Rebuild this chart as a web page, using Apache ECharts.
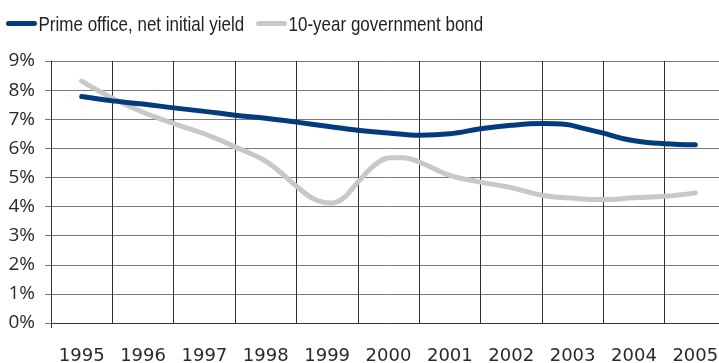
<!DOCTYPE html>
<html>
<head>
<meta charset="utf-8">
<script src="https://cdn.jsdelivr.net/npm/echarts@6/dist/echarts.min.js"></script>
<style>
  html, body { margin: 0; padding: 0; background: #fff; }
  #chart { width: 719px; height: 363px; }
</style>
</head>
<body>
<div id="chart"></div>
<script>
// Year bands shown on the horizontal axis
const years = ['1995', '1996', '1997', '1998', '1999', '2000', '2001', '2002', '2003', '2004', '2005'];

// Percentage ticks on the vertical axis
const yTicks = [0, 1, 2, 3, 4, 5, 6, 7, 8, 9];

// Prime office, net initial yield (%), sampled along fractional years
const officeYears  = [1995.0, 1995.5, 1996.0, 1996.5, 1997.0, 1997.5, 1998.0, 1998.5, 1999.0, 1999.5, 2000.0, 2000.5, 2001.0, 2001.5, 2002.0, 2002.5, 2002.9, 2003.13, 2003.5, 2003.83, 2004.15, 2004.5, 2005.0];
const officeYield  = [7.78, 7.63, 7.52, 7.39, 7.27, 7.14, 7.03, 6.90, 6.76, 6.62, 6.53, 6.45, 6.50, 6.67, 6.79, 6.85, 6.82, 6.71, 6.52, 6.33, 6.22, 6.16, 6.12];

// 10-year government bond yield (%), sampled along fractional years
const bondYears    = [1995.0, 1995.5, 1996.0, 1996.5, 1997.0, 1997.5, 1997.96, 1998.18, 1998.5, 1998.77, 1999.05, 1999.26, 1999.5, 1999.8, 2000.03, 2000.24, 2000.5, 2001.0, 2001.5, 2002.0, 2002.5, 2003.1, 2003.5, 2004.0, 2004.5, 2005.0];
const bondYield    = [8.31, 7.72, 7.24, 6.85, 6.50, 6.05, 5.61, 5.28, 4.70, 4.28, 4.12, 4.28, 4.84, 5.47, 5.68, 5.68, 5.53, 5.07, 4.84, 4.65, 4.39, 4.27, 4.24, 4.30, 4.35, 4.47];

const seriesNames = ['Prime office, net initial yield', '10-year government bond'];
const seriesColors = ['#033c7c', '#c8c8c8'];

const pair = (xs, ys) => xs.map((x, i) => [x, ys[i]]);

const chart = echarts.init(document.getElementById('chart'), null, { renderer: 'canvas' });

// Legend key: a short rounded stroke followed by a condensed caption
function legendEntry(x, color, label) {
  return {
    type: 'group',
    left: x,
    top: 15,
    children: [
      {
        type: 'line',
        shape: { x1: 2, y1: 13, x2: 28, y2: 13 },
        style: { stroke: color, lineWidth: 5, lineCap: 'round' }
      },
      {
        type: 'text',
        x: 32,
        y: 15,
        scaleX: 0.81,
        style: {
          text: label,
          fontFamily: "'Liberation Sans', 'DejaVu Sans', sans-serif",
          fontSize: 21,
          verticalAlign: 'middle',
          fill: '#222'
        }
      }
    ]
  };
}

chart.setOption({
  animation: false,
  backgroundColor: '#fff',
  graphic: [
    legendEntry(6, seriesColors[0], seriesNames[0]),
    legendEntry(256, seriesColors[1], seriesNames[1])
  ],
  grid: { left: 51, top: 61, width: 675, bottom: 40, outerBoundsMode: 'none', containLabel: false },
  xAxis: [
    {
      type: 'category',
      data: years,
      boundaryGap: true,
      axisLine: { show: true, lineStyle: { color: '#333', width: 1 } },
      axisTick: {
        show: true, length: 5,
        interval: (i) => i === 0,
        lineStyle: { color: '#333' }
      },
      axisLabel: {
        interval: 0,
        margin: 24,
        fontFamily: "'DejaVu Sans', sans-serif",
        fontSize: 18,
        color: '#2a2a2a'
      },
      splitLine: { show: true, interval: 0, lineStyle: { color: '#2e2e2e', width: 1 } }
    },
    {
      type: 'value',
      min: 1994.5,
      max: 2005.5,
      show: false
    }
  ],
  yAxis: {
    type: 'value',
    min: yTicks[0],
    max: yTicks[yTicks.length - 1],
    interval: 1,
    axisLine: { show: true, lineStyle: { color: '#333', width: 1 } },
    axisTick: { show: true, length: 6, inside: false, lineStyle: { color: '#777' } },
    axisLabel: {
      margin: 16,
      formatter: '{value}%',
      fontFamily: "'Open Sans', sans-serif",
      fontSize: 19,
      color: '#2a2a2a'
    },
    splitLine: { show: true, lineStyle: { color: '#7a7a7a', width: 1 } }
  },
  series: [
    {
      name: seriesNames[0],
      type: 'line',
      xAxisIndex: 1,
      data: pair(officeYears, officeYield),
      smooth: 0.4,
      symbol: 'none',
      color: seriesColors[0],
      lineStyle: { width: 5, cap: 'round', join: 'round', color: seriesColors[0] },
      z: 3
    },
    {
      name: seriesNames[1],
      type: 'line',
      xAxisIndex: 1,
      data: pair(bondYears, bondYield),
      smooth: 0.4,
      symbol: 'none',
      color: seriesColors[1],
      lineStyle: { width: 5, cap: 'round', join: 'round', color: seriesColors[1] },
      z: 2
    }
  ]
});
</script>
</body>
</html>
